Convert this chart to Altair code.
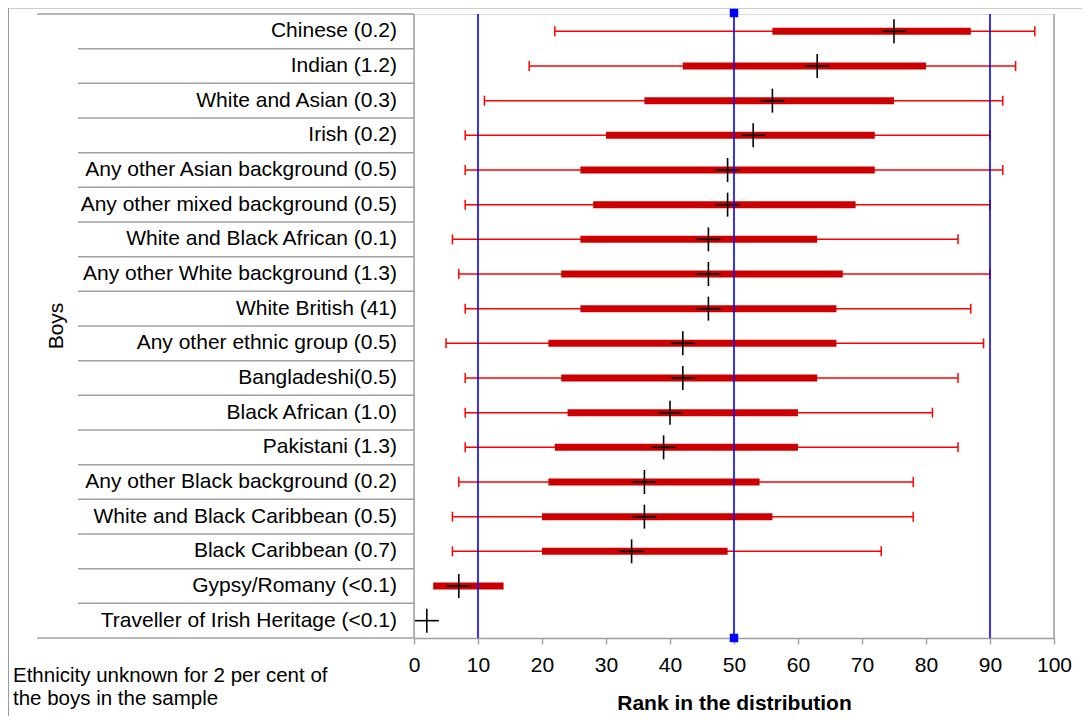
import altair as alt
import pandas as pd

categories = [
    "Chinese (0.2)",
    "Indian (1.2)",
    "White and Asian (0.3)",
    "Irish (0.2)",
    "Any other Asian background (0.5)",
    "Any other mixed background (0.5)",
    "White and Black African (0.1)",
    "Any other White background (1.3)",
    "White British (41)",
    "Any other ethnic group (0.5)",
    "Bangladeshi(0.5)",
    "Black African (1.0)",
    "Pakistani (1.3)",
    "Any other Black background (0.2)",
    "White and Black Caribbean (0.5)",
    "Black Caribbean (0.7)",
    "Gypsy/Romany (<0.1)",
    "Traveller of Irish Heritage (<0.1)",
]
whisker_lo = [22, 18, 11, 8, 8, 8, 6, 7, 8, 5, 8, 8, 8, 7, 6, 6, None, None]
box_lo = [56, 42, 36, 30, 26, 28, 26, 23, 26, 21, 23, 24, 22, 21, 20, 20, 3, None]
median = [75, 63, 56, 53, 49, 49, 46, 46, 46, 42, 42, 40, 39, 36, 36, 34, 7, 2]
box_hi = [87, 80, 75, 72, 72, 69, 63, 67, 66, 66, 63, 60, 60, 54, 56, 49, 14, None]
whisker_hi = [97, 94, 92, 90, 92, 90, 85, 90, 87, 89, 85, 81, 85, 78, 78, 73, None, None]
x_ticks = list(range(0, 101, 10))
reference_lines = [10, 50, 90]
centre_line = [50]
group_title = ["Boys"]
note = ["Ethnicity unknown for 2 per cent of\nthe boys in the sample"]

n = len(categories)
W, H = 640, 624
FONT = "Liberation Sans"
GRAY = "#a0a0a0"

df = pd.DataFrame({
    "group": categories,
    "row": [i + 0.5 for i in range(n)],
    "wlo": whisker_lo,
    "blo": box_lo,
    "med": median,
    "bhi": box_hi,
    "whi": whisker_hi,
})
bounds = pd.DataFrame({"b": list(range(n + 1))})
refs = pd.DataFrame({"v": reference_lines})
centre = pd.DataFrame({"v": centre_line})
one = pd.DataFrame({"t": group_title})
note_df = pd.DataFrame({"t": note})

xs = alt.Scale(domain=[0, 100], nice=False, zero=False, padding=0)
ys = alt.Scale(domain=[0, n], reverse=True, nice=False, zero=False, padding=0)
xaxis = alt.Axis(
    values=x_ticks, grid=False, title="Rank in the distribution",
    labelFontSize=21, labelColor="black", labelPadding=10, labelFont=FONT,
    labelFlush=False, labelOverlap=False,
    tickSize=6, tickColor=GRAY, tickWidth=1.5,
    domainColor=GRAY, domainWidth=1.5,
    titleFontSize=21, titleFontWeight="bold", titleColor="black", titleFont=FONT,
    titlePadding=17,
)


def X(f):
    return alt.X(f"{f}:Q", scale=xs, axis=xaxis)


def Y(f):
    return alt.Y(f"{f}:Q", scale=ys, axis=None)


base = alt.Chart(df)

frame = alt.Chart(one).mark_rect(fillOpacity=0, stroke="#999999", strokeWidth=1).encode(
    x=alt.value(-405.5), x2=alt.value(W + 200), y=alt.value(-6), y2=alt.value(H + 200)
)

sep_inner = alt.Chart(bounds).transform_filter(
    f"datum.b > 0 && datum.b < {n}"
).mark_rule(color=GRAY, strokeWidth=1.5).encode(
    x=alt.value(-336), x2=alt.value(0), y=Y("b")
)
sep_outer = alt.Chart(bounds).transform_filter(
    f"datum.b == 0 || datum.b == {n}"
).mark_rule(color=GRAY, strokeWidth=1.5).encode(
    x=alt.value(-377), x2=alt.value(0), y=Y("b")
)
left_axis = alt.Chart(one).mark_rule(color=GRAY, strokeWidth=1.5).encode(
    x=alt.value(0), y=alt.value(0), y2=alt.value(H)
)
right_border = alt.Chart(one).mark_rule(color=GRAY, strokeWidth=1.5).encode(
    x=alt.value(W), y=alt.value(0), y2=alt.value(H)
)

labels = base.mark_text(align="right", baseline="middle", fontSize=21, font=FONT, color="black").encode(
    x=alt.value(-17), y=Y("row"), text="group:N"
)
boys = alt.Chart(one).mark_text(angle=270, baseline="middle", align="center", fontSize=21, font=FONT, color="black").encode(
    x=alt.value(-357), y=alt.value(H / 2), text="t:N"
)
note_text = alt.Chart(note_df).mark_text(
    align="left", baseline="alphabetic", fontSize=20.5, font=FONT, color="black",
    lineBreak="\n", lineHeight=23,
).encode(x=alt.value(-401), y=alt.value(668), text="t:N")

whiskers = base.transform_filter("isValid(datum.wlo)").mark_rule(color="#ff0000", strokeWidth=1.5).encode(
    x=X("wlo"), x2="whi:Q", y=Y("row")
)
cap_lo = base.transform_filter("isValid(datum.wlo)").mark_tick(
    orient="vertical", size=10, thickness=1.5, color="#ff0000", opacity=1
).encode(x=X("wlo"), y=Y("row"))
cap_hi = base.transform_filter("isValid(datum.whi)").mark_tick(
    orient="vertical", size=10, thickness=1.5, color="#ff0000", opacity=1
).encode(x=X("whi"), y=Y("row"))
boxes = base.transform_filter("isValid(datum.blo)").mark_bar(
    size=7, color="#cc0000", orient="horizontal"
).encode(x=X("blo"), x2="bhi:Q", y=Y("row"))
med_h = base.mark_tick(orient="horizontal", size=24, thickness=1.6, color="black", opacity=1).encode(
    x=X("med"), y=Y("row")
)
med_v = base.mark_tick(orient="vertical", size=24, thickness=1.6, color="black", opacity=1).encode(
    x=X("med"), y=Y("row")
)

ref_rules = alt.Chart(refs).mark_rule(color="#0000ff", strokeWidth=1.6).encode(
    x=X("v"), y=alt.value(0), y2=alt.value(H)
)
sq_top = alt.Chart(centre).mark_square(size=72, color="#0000ff", opacity=1).encode(
    x=X("v"), y=alt.value(-1)
)
sq_bot = alt.Chart(centre).mark_square(size=72, color="#0000ff", opacity=1).encode(
    x=X("v"), y=alt.value(H)
)

chart = alt.layer(
    frame, sep_inner, sep_outer, left_axis, right_border,
    labels, boys, note_text,
    whiskers, cap_lo, cap_hi, boxes, med_h, med_v,
    ref_rules, sq_top, sq_bot,
).properties(
    width=W, height=H,
    autosize=alt.AutoSizeParams(type="none"),
    padding={"left": 406, "top": 6, "right": 28, "bottom": 78},
    background="white",
).configure_view(stroke=None).configure(font=FONT)

chart.save("out.html", embed_options={"renderer": "svg", "actions": False})
